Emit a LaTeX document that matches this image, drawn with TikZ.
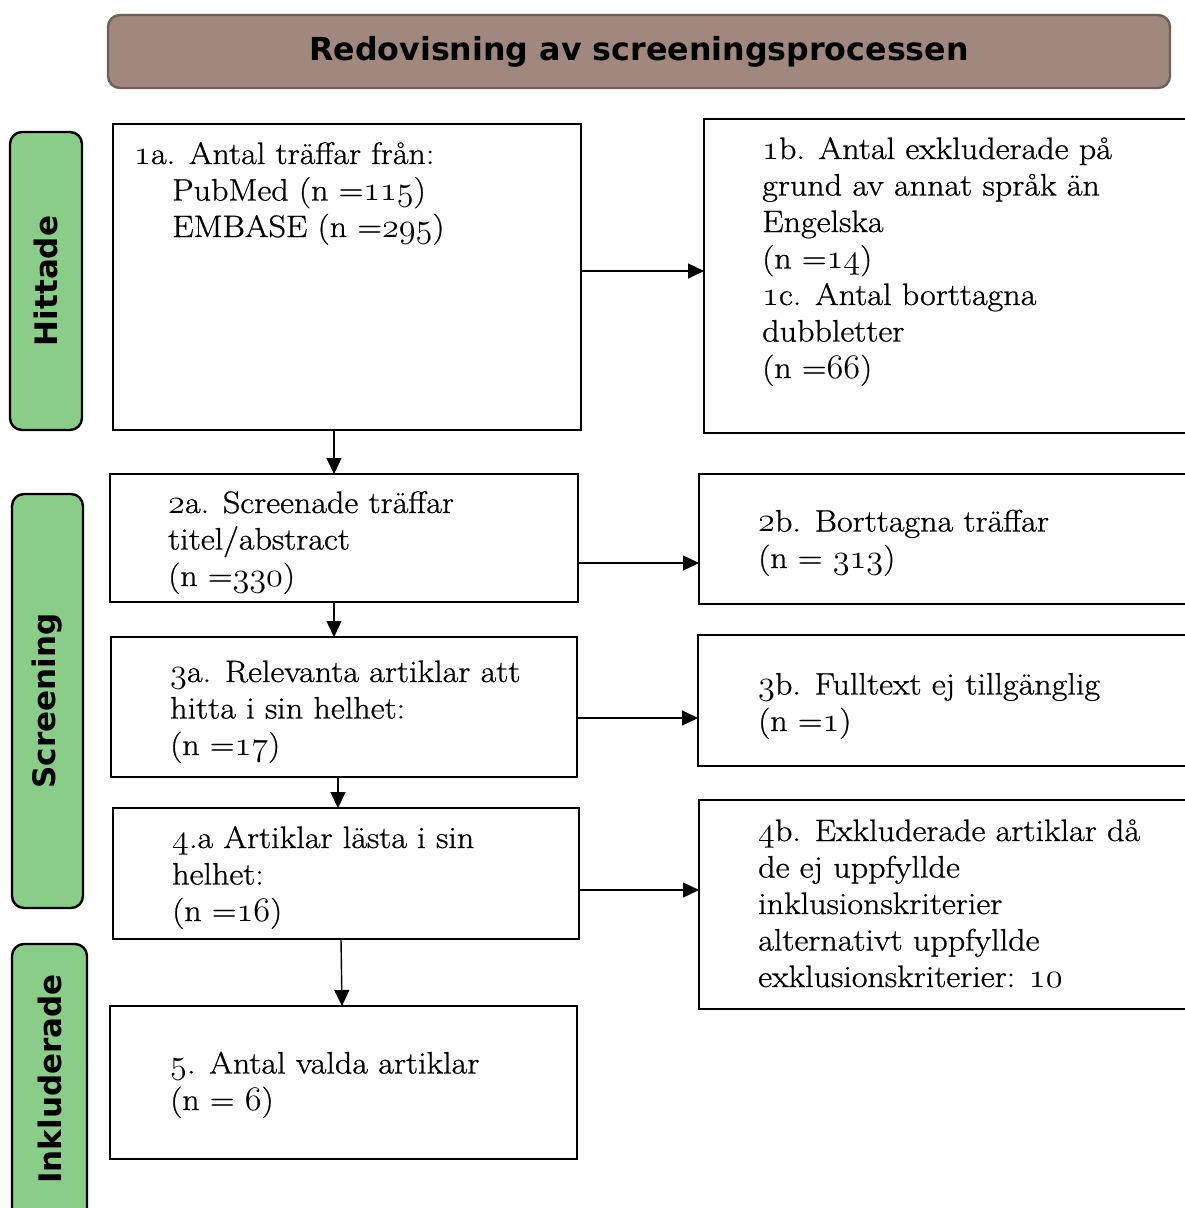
\documentclass[tikz,border=0pt]{standalone}
\usepackage{fontspec}
\newfontfamily\vb{DejaVu Sans}
\newfontfamily\lmrs{Latin Modern Roman}[FakeStretch=1.1,FakeBold=0.8]
\usetikzlibrary{arrows.meta}
\newcommand\osn[1]{\scalebox{1.38}{\usefont{OML}{cmm}{m}{it}\fontsize{24.88}{30}\selectfont#1}}
\definecolor{titlefill}{RGB}{161,136,127}
\definecolor{titledraw}{RGB}{110,96,90}
\definecolor{sidegreen}{RGB}{137,205,137}
\newcommand\bx[5]{\node[box, minimum width={#4-#2}, minimum height={#5-#3}] (#1) at (#2,#3) {};}
\begin{document}
\begin{tikzpicture}[x=1pt,y=-1pt,
  box/.style={draw, line width=2.6pt, anchor=north west, inner sep=0pt, outer sep=0pt},
  txt/.style={anchor=base west, align=left, inner sep=0pt, font=\lmrs\fontsize{31}{36.5}\selectfont},
  arr/.style={line width=1.4pt, -{Triangle[length=16pt,width=15pt]}},
  side/.style={draw, line width=2.4pt, fill=sidegreen, rounded corners=12pt, anchor=north west, inner sep=0pt, outer sep=0pt},
  sidetxt/.style={rotate=90, inner sep=0pt, font=\vb\bfseries\fontsize{31}{36}\selectfont}]
\useasboundingbox (0,0) rectangle (1185,1208);

% title
\node[draw=titledraw, line width=2.4pt, fill=titlefill, rounded corners=12pt,
      minimum width=1062pt, minimum height=73pt, inner sep=0pt,
      font=\vb\bfseries\fontsize{31.7}{36}\selectfont] (title) at (639,51.5) {Redovisning av screeningsprocessen};

% side labels
\node[side, minimum width=72pt, minimum height=298pt] (sh) at (10,132) {};
\node[sidetxt] (shl) at (sh.center) {Hittade};
\node[side, minimum width=71pt, minimum height=414pt] (ss) at (12,494) {};
\node[sidetxt] (ssl) at (ss.center) {Screening};
\node[side, minimum width=75pt, minimum height=290pt] (si) at (12,944) {};
\node[sidetxt] (sil) at ([yshift=10pt]si.center) {Inkluderade};

% boxes
\bx{b1a}{113}{124}{581}{430}
\bx{b1b}{704}{119}{1200}{433}
\bx{b2a}{110}{474}{578}{602}
\bx{b2b}{699}{474}{1200}{604}
\bx{b3a}{111}{637}{577}{777}
\bx{b3b}{698}{635}{1200}{766}
\bx{b4a}{113}{808}{579}{939}
\bx{b4b}{699}{800}{1200}{1009}
\bx{b5}{110}{1006}{577}{1159}

% texts (anchored at baseline of last line)
\node[txt] (t1a) at (134,237) {\osn{1}a. Antal träffar från:\\\hspace*{38pt}PubMed (n =\osn{115})\\\hspace*{38pt}EMBASE (n =\osn{295})};
\node[txt] (t1b) at (762,378) {\osn{1}b. Antal exkluderade på\\grund av annat språk än\\Engelska\\(n =\osn{14})\\\osn{1}c. Antal borttagna\\dubbletter\\(n =\osn{66})};
\node[txt] (t2a) at (168,586) {\osn{2}a. Screenade träffar\\titel/abstract\\(n =\osn{330})};
\node[txt] (t2b) at (758,568) {\osn{2}b. Borttagna träffar\\(n = \osn{313})};
\node[txt] (t3a) at (170,755) {\osn{3}a. Relevanta artiklar att\\hitta i sin helhet:\\(n =\osn{17})};
\node[txt] (t3b) at (758,731) {\osn{3}b. Fulltext ej tillgänglig\\(n =\osn{1})};
\node[txt] (t4a) at (172,921) {\osn{4}.a Artiklar lästa i sin\\helhet:\\(n =\osn{16})};
\node[txt] (t4b) at (758,987) {\osn{4}b. Exkluderade artiklar då\\de ej uppfyllde\\inklusionskriterier\\alternativt uppfyllde\\exklusionskriterier: \osn{10}};
\node[txt] (t5) at (170,1110) {\osn{5}. Antal valda artiklar\\(n = \osn{6})};

% arrows
\draw[arr] (b1a.east |- 0,271) -- (b1b.west |- 0,271);
\draw[arr] (b2a.east |- 0,563) -- (b2b.west |- 0,563);
\draw[arr] (b3a.east |- 0,718) -- (b3b.west |- 0,718);
\draw[arr] (b4a.east |- 0,890) -- (b4b.west |- 0,890);
\draw[arr] (b1a.south -| 334,0) -- (b2a.north -| 334,0);
\draw[arr] (b2a.south -| 334,0) -- (b3a.north -| 334,0);
\draw[arr] (b3a.south -| 338,0) -- (b4a.north -| 338,0);
\draw[arr] (b4a.south -| 341,0) -- (b5.north -| 342,0);
\end{tikzpicture}
\end{document}
